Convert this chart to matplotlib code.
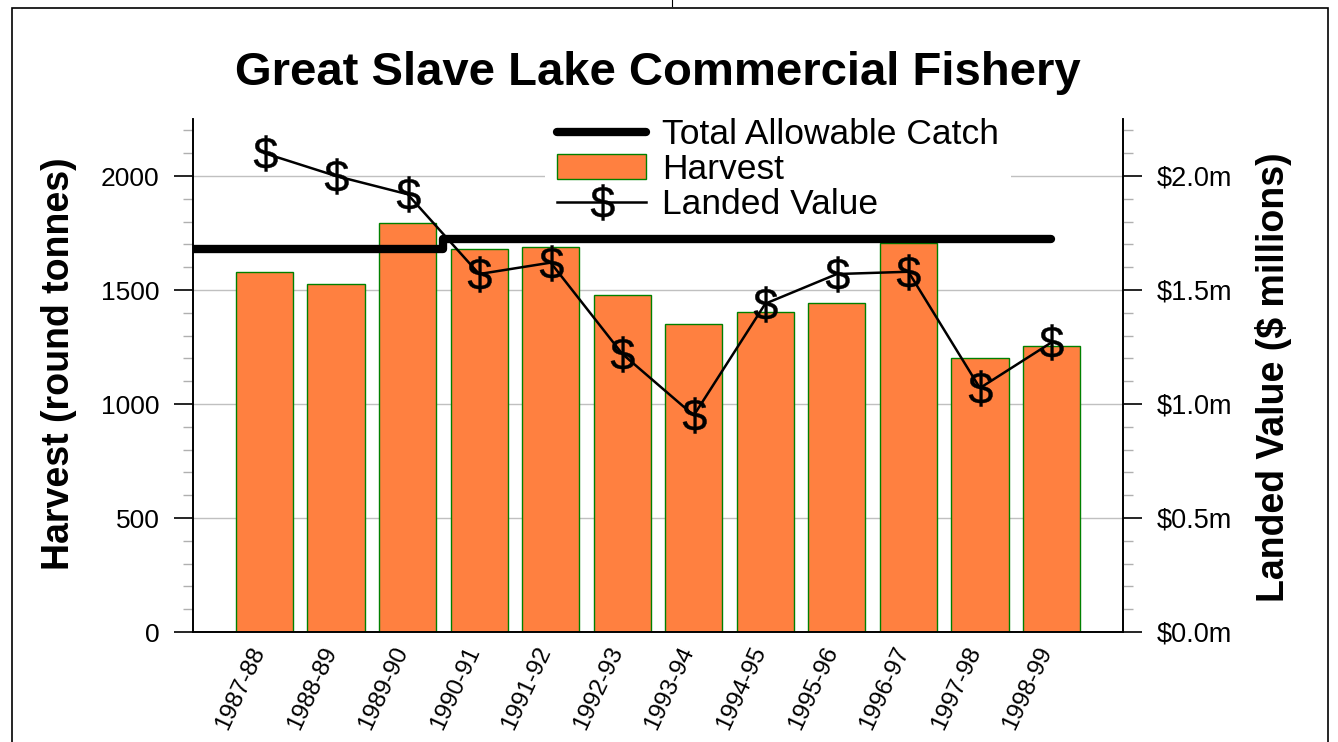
import numpy as np
import matplotlib
matplotlib.use("Agg")
import matplotlib.pyplot as plt
from matplotlib.textpath import TextPath
from matplotlib.font_manager import FontProperties
from matplotlib.path import Path
from matplotlib.patches import Rectangle
from matplotlib.lines import Line2D
from matplotlib.ticker import MultipleLocator, FuncFormatter
from matplotlib.transforms import ScaledTranslation

plt.rcParams['font.family'] = ['Liberation Sans', 'DejaVu Sans']

seasons = ['1987-88', '1988-89', '1989-90', '1990-91', '1991-92', '1992-93',
           '1993-94', '1994-95', '1995-96', '1996-97', '1997-98', '1998-99']
harvest = [1580, 1525, 1795, 1680, 1690, 1480, 1350, 1405, 1445, 1705, 1200, 1255]
tac = [1680, 1680, 1680, 1725, 1725, 1725, 1725, 1725, 1725, 1725, 1725, 1725]
landed_value = [2.10, 2.00, 1.92, 1.57, 1.62, 1.22, 0.95, 1.44, 1.57, 1.58, 1.07, 1.27]

W, H = 1338, 742
fig = plt.figure(figsize=(W / 100, H / 100), dpi=100)

def fx(px):
    return px / W

def fy(py):
    return 1 - py / H

ax = fig.add_axes([fx(193), fy(632), fx(1123) - fx(193), fy(119) - fy(632)])
ax2 = ax.twinx()

x = np.arange(len(seasons))
xlim = (-1.0, 12.0)

# bars
bars = ax.bar(x, harvest, width=0.8, color='#FF8040', edgecolor='#008000',
              linewidth=1.0, zorder=2, label='Harvest')

# TAC step line
tac_x = np.r_[xlim[0], x]
tac_y = np.r_[tac[0], tac]
tac_line, = ax.plot(tac_x, tac_y, drawstyle='steps-mid', color='black', lw=6,
                    solid_capstyle='round', solid_joinstyle='round', zorder=3,
                    label='Total Allowable Catch')

# dollar marker
tp = TextPath((0, 0), '$', prop=FontProperties(family='Liberation Sans'), size=10)
v = tp.vertices.copy()
cx = (v[:, 0].min() + v[:, 0].max()) / 2
cy = (v[:, 1].min() + v[:, 1].max()) / 2
v[:, 0] -= cx
v[:, 1] -= cy
dollar = Path(v, tp.codes)

lv_line, = ax2.plot(x, landed_value, color='black', lw=1.8, marker=dollar,
                    markersize=26, markerfacecolor='black', markeredgecolor='black',
                    markeredgewidth=0.3, zorder=4, label='Landed Value')

ax.set_xlim(*xlim)
ax.set_ylim(0, 2250)
ax2.set_ylim(0, 2.25)

# left axis ticks
ax.yaxis.set_major_locator(MultipleLocator(500))
ax.yaxis.set_minor_locator(MultipleLocator(100))
ax.tick_params(axis='y', which='major', length=14, width=1.2, color='black',
               labelsize=19, pad=10, direction='out')
ax.tick_params(axis='y', which='minor', length=7, width=1.0, color='#b0b0b0', direction='out')
ax.grid(axis='y', which='major', color='#c0c0c0', lw=1.0, zorder=0)
ax.set_axisbelow(True)

ax2.yaxis.set_major_locator(MultipleLocator(0.5))
ax2.yaxis.set_minor_locator(MultipleLocator(0.1))
ax2.yaxis.set_major_formatter(FuncFormatter(lambda v, p: '\\$%.1fm' % v))
ax2.tick_params(axis='y', which='major', length=14, width=1.2, color='black',
                labelsize=19.5, pad=10, direction='out')
ax2.tick_params(axis='y', which='minor', length=7, width=1.0, color='#b0b0b0', direction='out')

ax.set_xticks(x)
ax.set_xticklabels(seasons, rotation=65, ha='right', fontsize=17.5)
ax.tick_params(axis='x', length=0, pad=8)
offset = ScaledTranslation(5 / 100, 0, fig.dpi_scale_trans)
for lbl in ax.get_xticklabels():
    lbl.set_transform(lbl.get_transform() + offset)

for a in (ax, ax2):
    a.spines['top'].set_visible(False)
    for s in ('left', 'right', 'bottom'):
        a.spines[s].set_linewidth(1.2)
        a.spines[s].set_color('black')

# title and axis labels
fig.text(fx(658), fy(85), 'Great Slave Lake Commercial Fishery', ha='center',
         va='baseline', fontsize=34, fontweight='bold')
fig.text(fx(59), fy(364), 'Harvest (round tonnes)', rotation=90, ha='center',
         va='center', fontsize=27, fontweight='bold')
fig.text(fx(1274), fy(377), 'Landed Value (\\$ millions)', rotation=90, ha='center',
         va='center', fontsize=27, fontweight='bold')

# legend
leg = fig.legend(handles=[tac_line, bars, lv_line],
                 labels=['Total Allowable Catch', 'Harvest', 'Landed Value'],
                 loc='upper left', bbox_to_anchor=(fx(545), fy(106)),
                 fontsize=25.5, frameon=True, fancybox=False, framealpha=1,
                 facecolor='white', edgecolor='none', borderpad=0.35,
                 handlelength=2.5, handletextpad=0.45, labelspacing=0.05,
                 borderaxespad=0)

# figure border
fig.patches.append(Rectangle((fx(12), -0.02), fx(1328) - fx(12), fy(8) + 0.02,
                             transform=fig.transFigure, fill=False,
                             edgecolor='black', lw=1.2))
fig.lines.append(Line2D([fx(672), fx(672)], [fy(0), fy(6)], transform=fig.transFigure,
                        color='black', lw=0.8))

fig.savefig('out.png', dpi=100)
